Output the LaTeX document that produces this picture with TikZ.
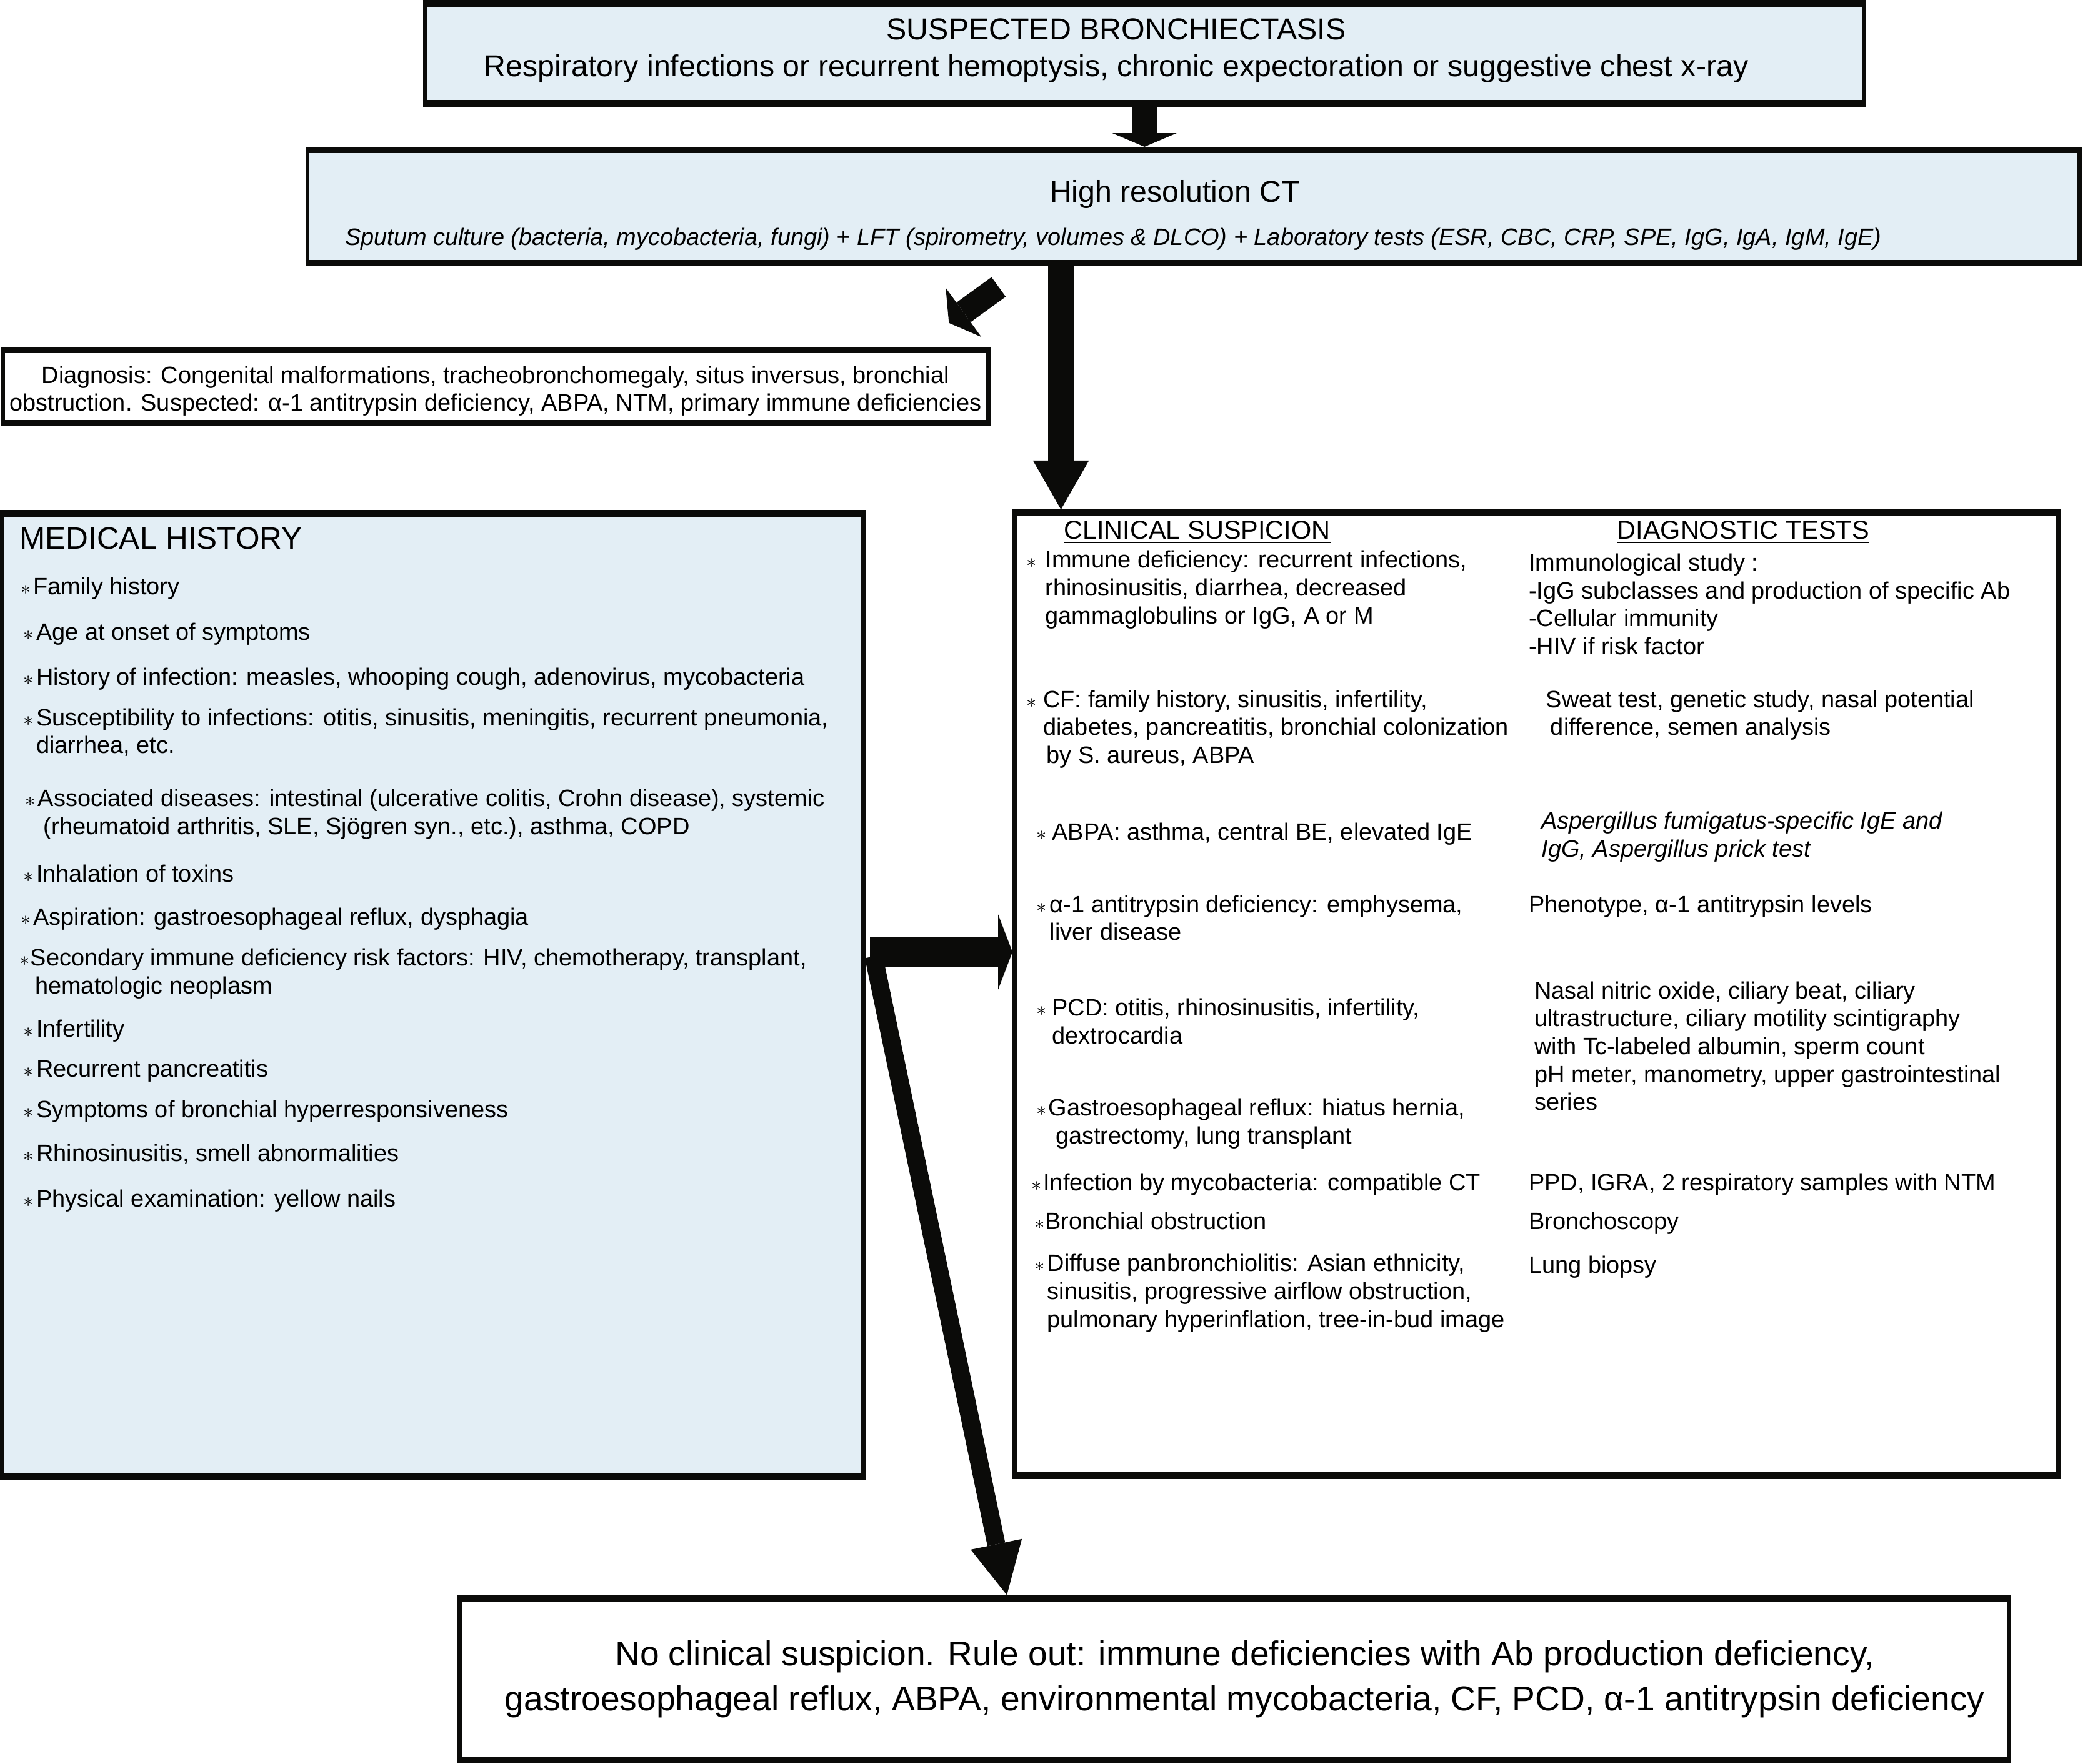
\documentclass[tikz,border=0pt]{standalone}
\usepackage{fontspec}
\setmainfont{Liberation Sans}
\usetikzlibrary{arrows.meta}
\usetikzlibrary{calc}
\definecolor{myblack}{HTML}{0B0B09}
\definecolor{mhblue}{RGB}{227,238,245}
\def\px{0.021256cm}
\newcommand{\leftlines}[1]{\begin{tabular}[t]{@{}l@{}}#1\end{tabular}}
\newcommand{\midlines}[1]{\begin{tabular}[t]{@{}c@{}}#1\end{tabular}}
\tikzset{every node/.style={font={\fontsize{10.8}{12.7}\selectfont}}}
\tikzstyle{box} = [draw=myblack, line width=1.9pt, inner sep=0pt, outer xsep=0.95pt, outer ysep=1.5pt]
\tikzstyle{hedge} = [draw=myblack, line width=3pt]
\tikzstyle{txt} = [inner sep=0pt, anchor=base west]
\tikzstyle{ctr} = [inner sep=0pt, anchor=base]
\tikzstyle{star} = [inner sep=0pt, anchor=base west, font=\small]
\tikzset{fat/.style n args={3}{draw=myblack, line width=#1, -{Triangle[width=#2, length=#3, line width=0pt]}}}

\begin{document}
\begin{tikzpicture}[x=\px, y=-\px]
  \useasboundingbox (0,0) rectangle (1568,1328);
  % boxes
  \node[box, fill=mhblue, minimum width=1083*\px, minimum height=75.3*\px] (susp) at (861.5,40.15) {};
  \node[box, fill=mhblue, minimum width=1334*\px, minimum height=85*\px] (ct) at (898.5,155.5) {};
  \node[box, fill=white, minimum width=742*\px, minimum height=55*\px] (diag) at (373,291) {};
  \node[box, fill=mhblue, minimum width=648.3*\px, minimum height=725*\px] (mh) at (325.85,749) {};
  \node[box, fill=white, minimum width=785.8*\px, minimum height=725*\px] (cs) at (1156.6,748.5) {};
  \node[box, fill=white, minimum width=1166.5*\px, minimum height=121.7*\px] (out) at (929.25,1264.15) {};
  \foreach \b in {susp,ct,diag,mh,cs,out}
    \draw[hedge] ([yshift=-1.5pt]\b.north west) -- ([yshift=-1.5pt]\b.north east)
                 ([yshift=1.5pt]\b.south west) -- ([yshift=1.5pt]\b.south east);

  % box texts
  \node[ctr, font=\fontsize{13.75}{16.75}\selectfont] (susp-t) at (840.3,29.8)
    {\midlines{SUSPECTED BRONCHIECTASIS\\Respiratory infections or recurrent hemoptysis, chronic expectoration or suggestive chest x-ray}};
  \node[ctr, font=\fontsize{13.75}{16}\selectfont] (ct-t) at (884.5,152) {High resolution CT};
  \node[ctr, font=\fontsize{10.8}{12.7}\selectfont\itshape] (ct-s) at (838,184.8)
    {Sputum culture (bacteria, mycobacteria, fungi) + LFT (spirometry, volumes \& DLCO) + Laboratory tests (ESR, CBC, CRP, SPE, IgG, IgA, IgM, IgE)};
  \node[ctr] (diag-t) at (373,288.4)
    {\midlines{Diagnosis: Congenital malformations, tracheobronchomegaly, situs inversus, bronchial\\obstruction. Suspected: α-1 antitrypsin deficiency, ABPA, NTM, primary immune deficiencies}};
  \node[ctr, font=\fontsize{15.7}{20.5}\selectfont] (out-t) at (937,1253.8)
    {\midlines{No clinical suspicion. Rule out: immune deficiencies with Ab production deficiency,\\gastroesophageal reflux, ABPA, environmental mycobacteria, CF, PCD, α-1 antitrypsin deficiency}};

  % medical history
  \node[txt, font=\fontsize{14.1}{17}\selectfont] (mh-h) at (14.4,413.2) {\underline{MEDICAL HISTORY}};
  \foreach \n/\xa/\xt/\y/\txt in {
      1/15.2/24.8/447.5/{Family history},
      2/17.4/27/482.2/{Age at onset of symptoms},
      3/17.4/27/515.8/{History of infection: measles, whooping cough, adenovirus, mycobacteria},
      4/17.4/27/546.3/{Susceptibility to infections: otitis, sinusitis, meningitis, recurrent pneumonia,\\diarrhea, etc.},
      5/18.5/28.3/607.2/{Associated diseases: intestinal (ulcerative colitis, Crohn disease), systemic\\\hspace*{2.6pt}(rheumatoid arthritis, SLE, Sjögren syn., etc.), asthma, COPD},
      6/17.4/27/663.9/{Inhalation of toxins},
      7/15.2/24.8/696.5/{Aspiration: gastroesophageal reflux, dysphagia},
      8/14.4/22.6/727.2/{Secondary immune deficiency risk factors: HIV, chemotherapy, transplant,\\\hspace*{2.1pt}hematologic neoplasm},
      9/17.4/27/780.6/{Infertility},
      10/17.4/27/810.6/{Recurrent pancreatitis},
      11/17.4/27/841.2/{Symptoms of bronchial hyperresponsiveness},
      12/17.4/27/874.2/{Rhinosinusitis, smell abnormalities},
      13/17.4/27/908.7/{Physical examination: yellow nails}}{
    \node[star] (mh-s\n) at (\xa,\y) {$\ast$};
    \node[txt] (mh-\n) at (\xt,\y) {\leftlines{\txt}};
  }

  % clinical suspicion and diagnostic tests
  \node[txt, font=\fontsize{11.8}{14}\selectfont] (cs-h) at (800.5,405.8) {\underline{CLINICAL SUSPICION}};
  \node[txt, font=\fontsize{11.8}{14}\selectfont] (dt-h) at (1217,405.8) {\underline{DIAGNOSTIC TESTS}};
  \foreach \n/\xa/\xt/\y/\txt in {
      1/772.5/786.5/427.6/{Immune deficiency: recurrent infections,\\rhinosinusitis, diarrhea, decreased\\gammaglobulins or IgG, A or M},
      2/772.5/785/532.6/{CF: family history, sinusitis, infertility,\\diabetes, pancreatitis, bronchial colonization\\\hspace*{1.5pt}by S. aureus, ABPA},
      3/779.7/791.7/632.4/{ABPA: asthma, central BE, elevated IgE},
      4/779.7/790/687/{α-1 antitrypsin deficiency: emphysema,\\liver disease},
      5/779.7/791.7/764.8/{PCD: otitis, rhinosinusitis, infertility,\\dextrocardia},
      6/779.7/789/840.2/{Gastroesophageal reflux: hiatus hernia,\\\hspace*{3.2pt}gastrectomy, lung transplant},
      7/776/785/896.5/{Infection by mycobacteria: compatible CT},
      8/778.7/786.5/925.8/{Bronchial obstruction},
      9/778.7/788/957.3/{Diffuse panbronchiolitis: Asian ethnicity,\\sinusitis, progressive airflow obstruction,\\pulmonary hyperinflation, tree-in-bud image}}{
    \node[star] (cs-s\n) at (\xa,\y) {$\ast$};
    \node[txt] (cs-\n) at (\xt,\y) {\leftlines{\txt}};
  }
  \foreach \n/\x/\y/\txt in {
      1/1150.5/429.7/{Immunological study :\\-IgG subclasses and production of specific Ab\\-Cellular immunity\\-HIV if risk factor},
      2/1163.5/532.6/{Sweat test, genetic study, nasal potential\\\hspace*{2pt}difference, semen analysis},
      4/1150.5/687/{Phenotype, α-1 antitrypsin levels},
      5/1154.7/751.9/{Nasal nitric oxide, ciliary beat, ciliary\\ultrastructure, ciliary motility scintigraphy\\with Tc-labeled albumin, sperm count\\pH meter, manometry, upper gastrointestinal\\series},
      7/1150.5/896.5/{PPD, IGRA, 2 respiratory samples with NTM},
      8/1150.5/925.8/{Bronchoscopy},
      9/1150.5/958.4/{Lung biopsy}}{
    \node[txt] (dt-\n) at (\x,\y) {\leftlines{\txt}};
  }
  \node[txt, font=\fontsize{10.8}{12.7}\selectfont\itshape] (dt-3) at (1160,624)
    {\leftlines{Aspergillus fumigatus-specific IgE and\\IgG, Aspergillus prick test}};

  % arrows
  \draw[fat={11.4pt}{29.2pt}{6.2pt}] (susp.south) -- (susp.south |- ct.north);
  \coordinate (a2) at ($(cs.north west)+(36.5,0)$);
  \draw[fat={11.7pt}{25.5pt}{22.3pt}] (a2 |- ct.south) -- (a2);
  \coordinate (dg-a) at (751.7,216);
  \coordinate (dg-b) at (714.3,243.1);
  \draw[fat={11pt}{27.6pt}{8.2pt}] (dg-a) -- (dg-b);
  \coordinate (jn) at ($(mh.east)+(3.4,-32.3)$);
  \draw[fat={13.3pt}{34.1pt}{6.5pt}] (jn) -- (jn -| cs.west);
  \coordinate (jd) at ($(mh.east)+(6.1,-29)$);
  \coordinate (a5) at ($(out.north west)+(413.5,0)$);
  \draw[fat={8.2pt}{23.8pt}{23.6pt}] (jd) -- (a5);
\end{tikzpicture}
\end{document}
